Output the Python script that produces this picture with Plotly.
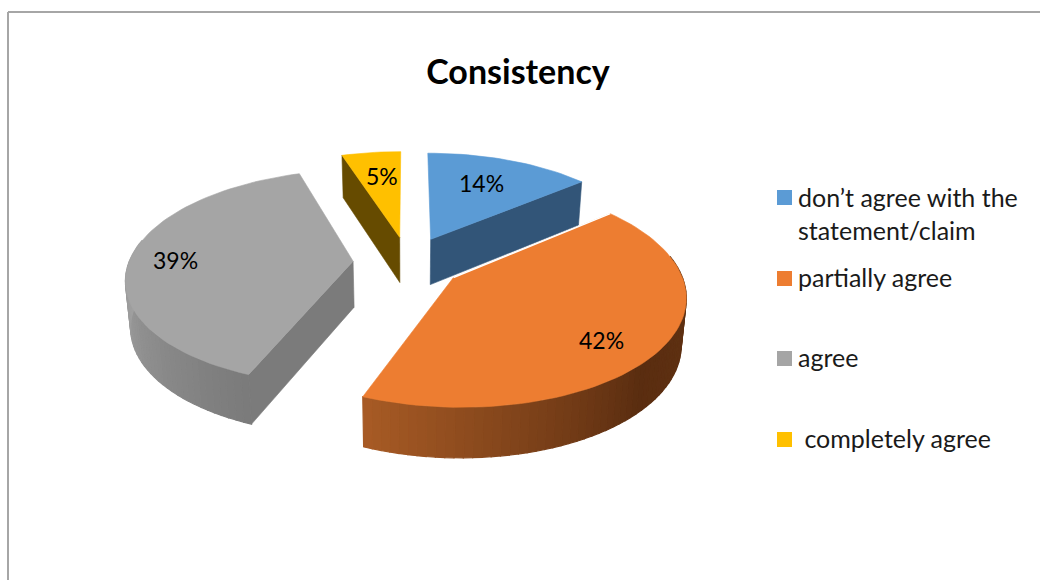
import math
import plotly.graph_objects as go

# ---- data ----
TITLE = "Consistency"
CATEGORIES = ["don’t agree with the<br>statement/claim", "partially agree", "agree", " completely agree"]
VALUES = [14, 42, 39, 5]
LABELS = ["14%", "42%", "39%", "5%"]
TOP_COLORS = ["#5B9BD5", "#ED7D31", "#A5A5A5", "#FFC000"]
WALL_COLORS = ["#325578", "#7f4a1e", "#7b7b7b", "#664b00"]
# rim shading: colour along the front-facing rim, per slice
RIM_SHADES = {1: [(90, "#623313"), (135, "#5a2d10"), (201.6, "#a85b25")],
              2: [(201.6, "#7a7a7a"), (275, "#a4a4a4")]}

# ---- view geometry ----
W, H = 1040, 580
CX, CY = 408, 262
R, PULL, TILT, PERSP, DEPTH, TAPER = 224, 55, 0.47, 1500, 46, 0.0004
DRAW_ORDER = [0, 3, 2, 1]
LABEL_XY = [(481, 183), (601, 340), (175, 260), (382, 176)]
LEGEND_Y = [(190, 213), (271, 277), (351, 357), (432, 438)]


def project(theta, radius, bis, drop=0.0):
    t, b = math.radians(theta), math.radians(bis)
    u = radius * math.sin(t) + PULL * math.sin(b)
    v = -radius * math.cos(t) - PULL * math.cos(b)
    s = 1 / (1 - v / PERSP)
    return CX + s * u * (1 - TAPER * drop), CY + s * TILT * v + drop * math.sqrt(s)


def hex2rgb(c):
    return [int(c[i:i + 2], 16) for i in (1, 3, 5)]


def shade(stops, th):
    th = max(stops[0][0], min(stops[-1][0], th))
    for (a, ca), (b, cb) in zip(stops, stops[1:]):
        if a <= th <= b:
            f = (th - a) / (b - a)
            ra, rb = hex2rgb(ca), hex2rgb(cb)
            return "rgb(%d,%d,%d)" % tuple(round(x + (y - x) * f) for x, y in zip(ra, rb))
    return stops[-1][1]


def poly(fig, pts, color, name=None, lw=0.6):
    xs = [p[0] for p in pts] + [pts[0][0]]
    ys = [p[1] for p in pts] + [pts[0][1]]
    fig.add_trace(go.Scatter(x=xs, y=ys, mode="lines", fill="toself", fillcolor=color,
                             line=dict(color=color, width=lw),
                             hoverinfo="skip" if name is None else "text", text=name,
                             showlegend=False))


fig = go.Figure()
total = sum(VALUES)
starts, acc = [], 0
for v in VALUES:
    starts.append(acc / total * 360)
    acc += v

for i in DRAW_ORDER:
    a0 = starts[i]
    a1 = a0 + VALUES[i] / total * 360
    bis = (a0 + a1) / 2
    n = max(4, int((a1 - a0) / 2))
    thetas = [a0 + (a1 - a0) * k / n for k in range(n + 1)]
    # radial side wall visible from the viewer
    edge = {0: a1, 3: a0, 2: a0}.get(i)
    if edge is not None:
        poly(fig, [project(0, 0, bis), project(edge, R, bis),
                   project(edge, R, bis, DEPTH), project(0, 0, bis, DEPTH)], WALL_COLORS[i])
    # outer rim strips, front half only
    if i in RIM_SHADES:
        for t0, t1 in zip(thetas, thetas[1:]):
            mid = (t0 + t1) / 2
            if math.cos(math.radians(mid)) < 0.2:
                poly(fig, [project(t0, R, bis), project(t1, R, bis),
                           project(t1, R, bis, DEPTH), project(t0, R, bis, DEPTH)],
                     shade(RIM_SHADES[i], mid), lw=1.2)
    # top face
    top = [project(0, 0, bis)] + [project(t, R, bis) for t in thetas]
    poly(fig, top, TOP_COLORS[i], name=f"{CATEGORIES[i]}: {LABELS[i]}")
    if i == 1:
        # thin light seam where the orange slice overlaps the blue wall
        p, q = project(0, 0, bis), project(a0, R, bis)
        fig.add_trace(go.Scatter(x=[p[0], q[0]], y=[p[1], q[1]], mode="lines", hoverinfo="skip",
                                 line=dict(color="#ffffff", width=1.5), showlegend=False))

annotations = []
for lab, (x, y) in zip(LABELS, LABEL_XY):
    annotations.append(dict(x=x, y=y, text=lab, showarrow=False, xref="x", yref="y",
                            font=dict(family="Lato", size=23, color="#000000")))

shapes = [
    dict(type="line", x0=8, x1=8, y0=12, y1=H + 5, xref="x", yref="y", line=dict(color="#a6a6a6", width=2)),
    dict(type="line", x0=8, x1=W + 5, y0=12, y1=12, xref="x", yref="y", line=dict(color="#a6a6a6", width=2)),
]
for cat, col, (sq, ty) in zip(CATEGORIES, TOP_COLORS, LEGEND_Y):
    shapes.append(dict(type="rect", x0=777, x1=792, y0=sq, y1=sq + 15, xref="x", yref="y",
                       fillcolor=col, line=dict(width=0)))
    annotations.append(dict(x=796, y=ty, text=cat, showarrow=False, xanchor="left", align="left",
                            xref="x", yref="y", font=dict(family="Lato", size=25, color="#1a1a1a")))

fig.update_layout(
    width=W, height=H, autosize=False,
    margin=dict(l=0, r=0, t=0, b=0),
    paper_bgcolor="#ffffff", plot_bgcolor="#ffffff", showlegend=False,
    title=dict(text=f"<b>{TITLE}</b>", x=518 / W, y=1 - 72 / H, xanchor="center", yanchor="middle",
               font=dict(family="Lato", size=34, color="#000000")),
    xaxis=dict(range=[0, W], visible=False, fixedrange=True, domain=[0, 1]),
    yaxis=dict(range=[H, 0], visible=False, fixedrange=True, domain=[0, 1]),
    shapes=shapes, annotations=annotations,
)
fig.write_html("out.html", config={"displayModeBar": False},
               post_script="document.body.style.margin='0';document.body.style.overflow='hidden';")
